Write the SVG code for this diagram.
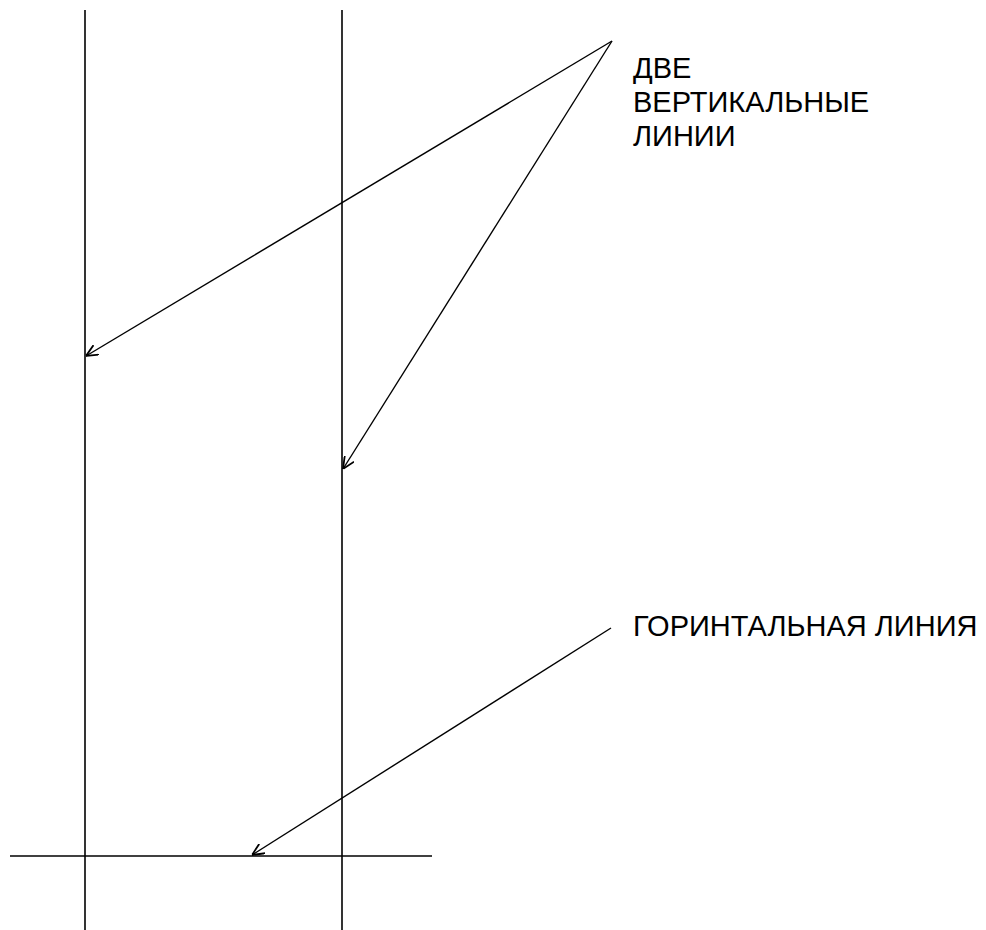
<svg xmlns="http://www.w3.org/2000/svg" width="986" height="930" viewBox="0 0 986 930">
<style>
.ln{stroke:#000;stroke-width:1.6;fill:none}
.ar{stroke:#000;stroke-width:1.4;fill:none}
.lbl{font-family:"Liberation Sans",Arial,sans-serif;font-size:29px;fill:#000}
</style>
<defs>
<marker id="ah" viewBox="0 0 12 12" refX="12" refY="6" markerWidth="12" markerHeight="12" markerUnits="userSpaceOnUse" orient="auto">
<path d="M0,0.5 L12,6 L0,11.5" fill="none" stroke="#000" stroke-width="1.8"/>
</marker>
</defs>
<rect width="986" height="930" fill="#fff"/>
<g id="vline1"><line class="ln" x1="85" y1="10" x2="85" y2="930"/></g>
<g id="vline2"><line class="ln" x1="342" y1="10" x2="342" y2="930"/></g>
<g id="hline"><line class="ln" x1="10" y1="856" x2="432" y2="856"/></g>
<g id="label-vertical">
<text class="lbl" x="633" y="78">ДВЕ</text>
<text class="lbl" x="633" y="112">ВЕРТИКАЛЬНЫЕ</text>
<text class="lbl" x="633" y="146">ЛИНИИ</text>
</g>
<g id="label-horizontal"><text class="lbl" x="633" y="636">ГОРИНТАЛЬНАЯ ЛИНИЯ</text></g>
<g id="connectors">
<line class="ar" x1="612" y1="41" x2="86" y2="356" marker-end="url(#ah)"/>
<line class="ar" x1="612" y1="41" x2="343" y2="469" marker-end="url(#ah)"/>
<line class="ar" x1="611" y1="628" x2="252" y2="855" marker-end="url(#ah)"/>
</g>
</svg>
